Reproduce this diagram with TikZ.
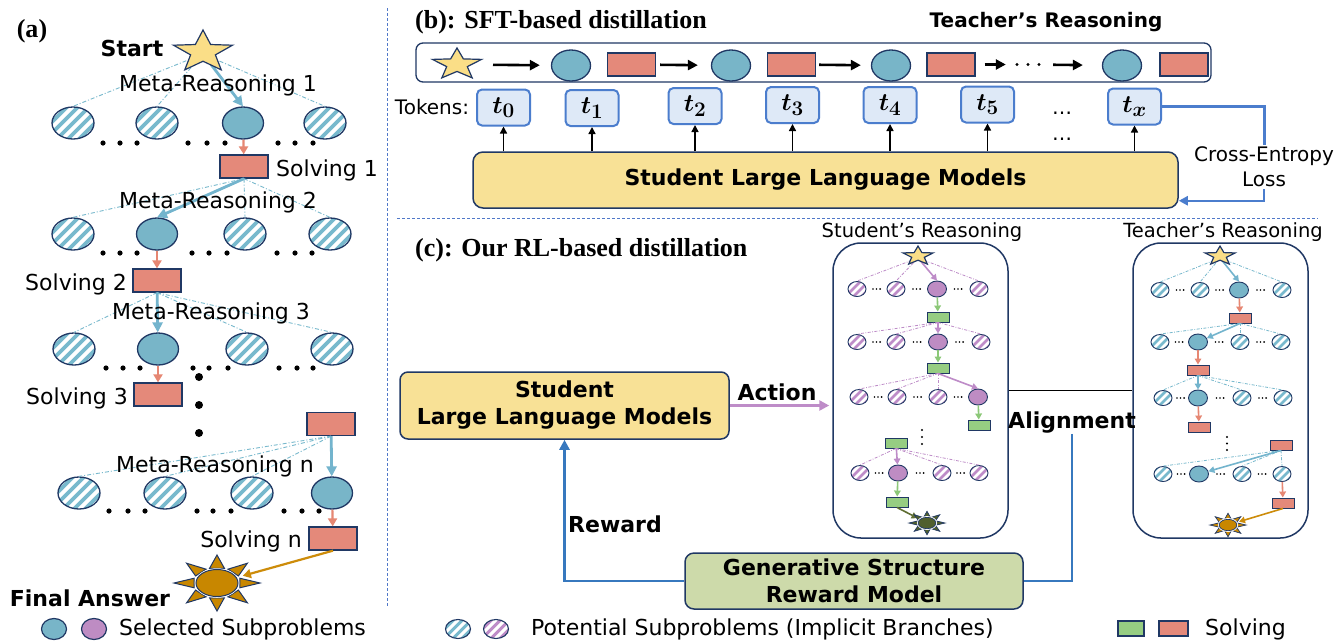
\documentclass[tikz,border=0pt]{standalone}
\usepackage{fontspec}
\setmainfont{Liberation Serif}
\newfontfamily\dv{DejaVu Sans}
\usetikzlibrary{arrows.meta,shapes.geometric,calc}

\definecolor{navy}{RGB}{32,56,100}
\definecolor{tealF}{RGB}{120,181,200}
\definecolor{stripeB}{RGB}{120,185,205}
\definecolor{salmon}{RGB}{228,137,122}
\definecolor{purpF}{RGB}{190,140,195}
\definecolor{greenF}{RGB}{150,205,130}
\definecolor{starY}{RGB}{250,222,135}
\definecolor{sunG}{RGB}{200,135,0}
\definecolor{sunD}{RGB}{80,95,45}
\definecolor{arrB}{RGB}{115,180,205}
\definecolor{arrO}{RGB}{230,135,115}
\definecolor{arrG}{RGB}{205,140,10}
\definecolor{arrP}{RGB}{190,140,200}
\definecolor{arrGr}{RGB}{140,200,120}
\definecolor{arrDG}{RGB}{95,110,50}
\definecolor{linkB}{RGB}{55,120,190}
\definecolor{tokB}{RGB}{75,125,205}
\definecolor{tokF}{RGB}{222,233,247}
\definecolor{boxY}{RGB}{248,225,150}
\definecolor{boxG}{RGB}{205,218,170}
\definecolor{sepB}{RGB}{80,120,200}

% five-pointed star, squashed vertically
\newcommand\starpic[4]{%
  \begin{scope}[shift={(#1,#2)},yscale=#4]
    \pgfmathsetmacro\rin{0.42*#3}
    \filldraw[fill=starY,draw=navy,line width=1.2pt,line join=miter]
      (-90:#3) -- (-54:\rin) -- (-18:#3) -- (18:\rin) -- (54:#3) -- (90:\rin)
      -- (126:#3) -- (162:\rin) -- (198:#3) -- (234:\rin) -- cycle;
  \end{scope}}

% sun: eight triangular rays round an ellipse
\newcommand\sunpic[5]{%
  \begin{scope}[shift={(#1,#2)},scale=#3]
    \foreach \a in {0,45,...,315}
      \filldraw[fill=#4,draw=navy,line width=#5,line join=miter]
        ({43*cos(\a)},{28*sin(\a)}) -- ({24*cos(\a-18)},{15.5*sin(\a-18)})
        -- ({24*cos(\a+18)},{15.5*sin(\a+18)}) -- cycle;
    \draw[white,line width=2.5pt] (0,0) ellipse [x radius=21,y radius=13.5];
    \filldraw[fill=#4,draw=navy,line width=#5] (0,0) ellipse [x radius=21,y radius=13.5];
  \end{scope}}

\tikzset{
  lab/.style={font=\dv\fontsize{22}{26}\selectfont, inner sep=0pt},
  lab20/.style={font=\dv\fontsize{20}{25}\selectfont, inner sep=0pt},
  blab/.style={font=\dv\bfseries\fontsize{22}{27}\selectfont, inner sep=0pt},
  blab20/.style={font=\dv\bfseries\fontsize{20}{24}\selectfont, inner sep=0pt},
  ttl/.style={font=\bfseries\fontsize{26}{30}\selectfont, inner sep=0pt},
  hatchE/.style n args={5}{ellipse, draw=navy, line width=#4, fill=white, inner sep=0pt,
    path picture={\foreach \k in {-6,...,6}
      \draw[draw=#1, line width=#3]
        ([xshift={(\k+#5)*#2}]path picture bounding box.center) ++(-40pt,-40pt) -- ++(80pt,80pt);}},
  selE/.style={ellipse, draw=navy, inner sep=0pt, fill=#1},
  bigHatch/.style={hatchE={stripeB}{11pt}{3.6pt}{1.3pt}{0}, minimum width=42pt, minimum height=32pt},
  bigSel/.style={selE=tealF, line width=1.3pt, minimum width=41pt, minimum height=32pt},
  bigRect/.style={draw=navy, line width=1.3pt, fill=salmon, inner sep=0pt, minimum width=48pt, minimum height=23pt},
  midSel/.style={selE=tealF, line width=1.3pt, minimum width=39pt, minimum height=31pt},
  midRect/.style={draw=navy, line width=1.3pt, fill=salmon, inner sep=0pt, minimum width=48pt, minimum height=23pt},
  smH/.style={hatchE={#1}{8pt}{2.6pt}{0.9pt}{0.5}, minimum width=18pt, minimum height=15pt},
  smS/.style={selE=#1, line width=0.9pt, minimum width=19pt, minimum height=16pt},
  smR/.style={draw=navy, line width=0.9pt, fill=#1, inner sep=0pt, minimum width=22pt, minimum height=10pt},
  tok/.style={draw=tokB, line width=2pt, fill=tokF, rounded corners=5pt, inner sep=0pt,
    minimum width=53pt, minimum height=36pt, font=\fontsize{28}{28}\selectfont\boldmath},
  ybox/.style={draw=navy, line width=1.5pt, fill=boxY, rounded corners=10pt, inner sep=0pt,
    font=\dv\bfseries\fontsize{22}{27}\selectfont, align=center},
  gbox/.style={ybox, fill=boxG, rounded corners=9pt},
  panelbox/.style={draw=navy, line width=1.5pt, fill=white, rounded corners=28pt, inner sep=0pt,
    minimum width=175pt, minimum height=295pt},
  ddl/.style={line width=0.9pt, dash pattern=on 4pt off 2pt on 1pt off 2pt},
  sdd/.style={line width=0.8pt, dash pattern=on 3pt off 1.5pt on 0.8pt off 1.5pt},
  tarr/.style={line width=2.8pt, -{Triangle[length=10pt,width=10pt]}},
  oarr/.style={line width=2.2pt, -{Triangle[length=8pt,width=9pt]}},
  sarr/.style={line width=1.6pt, -{Triangle[length=6pt,width=6.5pt]}},
  barr/.style={line width=2.6pt, -{Triangle[length=10pt,width=10pt]}},
  uarr/.style={line width=1.5pt, -{Triangle[length=7pt,width=7pt]}},
  link/.style={draw=linkB, line width=2.5pt},
  sepl/.style={draw=sepB, line width=0.9pt, dash pattern=on 3pt off 2pt},
}

\begin{document}
\begin{tikzpicture}[x=1pt,y=-1pt]
\useasboundingbox (0,0) rectangle (1335,641);
\fill[white] (0,0) rectangle (1335,641);

% ---------- panel separators
\draw[sepl] (387,8) -- (387,607);
\draw[sepl] (397,218) -- (1318,218);

% ================= (a) search tree =================
\node[ttl] (la) at (32,31) {(a)};
\coordinate (aStar) at (203,54);
\node[bigHatch] (a11) at (73,123) {};
\node[bigHatch] (a12) at (157,123) {};
\node[bigSel]   (a13) at (243,123) {};
\node[bigHatch] (a14) at (325,123) {};
\node[bigRect]  (ar1) at (244,166.5) {};
\node[bigHatch] (a21) at (73,234) {};
\node[bigSel]   (a22) at (157,234) {};
\node[bigHatch] (a23) at (245,234) {};
\node[bigHatch] (a24) at (330,234) {};
\node[bigRect]  (ar2) at (157,280.5) {};
\node[bigHatch] (a31) at (74,349) {};
\node[bigSel]   (a32) at (158,349) {};
\node[bigHatch] (a33) at (247,349) {};
\node[bigHatch] (a34) at (332,349) {};
\node[bigRect]  (ar3) at (158,394.5) {};
\node[bigRect]  (ar4) at (331,424) {};
\node[bigHatch] (a41) at (79,493) {};
\node[bigHatch] (a42) at (165,493) {};
\node[bigHatch] (a43) at (252,493) {};
\node[bigSel]   (a44) at (332,493) {};
\node[bigRect]  (ar5) at (333,538.5) {};
\node[ellipse, inner sep=0pt, minimum width=56pt, minimum height=36pt] (aSun) at (217,583) {};

% branches
\foreach \t in {a11,a12,a14} \draw[ddl,draw=stripeB] (aStar) -- (\t.north);
\draw[tarr,draw=arrB] (aStar) -- (a13.north);
\draw[oarr,draw=arrO] (a13) -- (ar1);
\foreach \t in {a21,a23,a24} \draw[ddl,draw=stripeB] (ar1.south) -- (\t.north);
\draw[tarr,draw=arrB] (ar1.south) -- (a22.north);
\draw[oarr,draw=arrO] (a22) -- (ar2);
\foreach \t in {a31,a33,a34} \draw[ddl,draw=stripeB] (ar2.south) -- (\t.north);
\draw[tarr,draw=arrB] (ar2) -- (a32);
\draw[oarr,draw=arrO] (a32) -- (ar3);
\foreach \t in {a41,a42,a43} \draw[ddl,draw=stripeB] (ar4.south) -- (\t.north);
\draw[tarr,draw=arrB] (ar4) -- (a44);
\draw[oarr,draw=arrO] (a44) -- (ar5);
\draw[oarr,draw=arrG] (ar5.south) -- (aSun);

\starpic{203}{52}{31}{0.71}
\sunpic{217}{583}{1}{sunG}{1pt}

% ellipsis dots below each row
\foreach \y/\xs in {143/{103,120,137,188,207,225,278,295,313},
                    253/{103,120,137,192,209,227,277,295,312},
                    368/{106,123,140,193,209,228,279,297,313},
                    511/{109,128,145,197,213,231,284,302,319}}
  \foreach \x in \xs \fill (\x,\y) circle (2.6);
\foreach \y in {377,405,433} \fill (199,\y) circle (4);

\node[blab] (lstart) at (132,48.5) {Start};
\node[lab] (lm1) at (218,85) {Meta-Reasoning 1};
\node[lab, anchor=west] (ls1) at (276,170.5) {Solving 1};
\node[lab] (lm2) at (218,202) {Meta-Reasoning 2};
\node[lab, anchor=east] (ls2) at (127,284) {Solving 2};
\node[lab] (lm3) at (211,313) {Meta-Reasoning 3};
\node[lab, anchor=east] (ls3) at (128,398) {Solving 3};
\node[lab] (lmn) at (215,466) {Meta-Reasoning n};
\node[lab, anchor=east] (lsn) at (302,541) {Solving n};
\node[blab] (lfin) at (90,598.5) {Final Answer};

% ================= (b) SFT distillation =================
\node[ttl, anchor=west] (lb) at (415,22) {(b): SFT-based distillation};
\node[blab20] (ltr) at (1046,22) {Teacher’s Reasoning};
\node[draw=navy, line width=1.3pt, fill=white, rounded corners=7pt, inner sep=0pt,
      minimum width=795pt, minimum height=39pt] (seq) at (813.5,62.5) {};
\coordinate (bStar) at (457,64.5);
\node[midSel]  (bc1) at (571,65.5) {};
\node[midRect] (br1) at (631.5,64.5) {};
\node[midSel]  (bc2) at (731,65.5) {};
\node[midRect] (br2) at (791.5,64.5) {};
\node[midSel]  (bc3) at (891,65.5) {};
\node[midRect] (br3) at (951,64.5) {};
\node[inner sep=0pt, minimum width=34pt, minimum height=6pt] (bdots) at (1028,64.5) {};
\node[midSel]  (bc4) at (1122,65.5) {};
\node[midRect] (br4) at (1184,64.5) {};
\starpic{457}{64.5}{25.8}{0.64}
\draw[barr, shorten <=36pt, shorten >=11pt] (bStar) -- (bc1);
\draw[barr, shorten <=4pt, shorten >=13pt] (br1) -- (bc2);
\draw[barr, shorten <=3pt, shorten >=10pt] (br2) -- (bc3);
\draw[barr, shorten <=9pt, shorten >=5pt] (br3) -- (bdots);
\draw[barr, shorten <=8pt, shorten >=19pt] (bdots) -- (bc4);
\foreach \dx in {-11,0,11} \fill ([xshift=\dx pt]bdots.center) circle (1.6);

\node[lab20] (ltok) at (432,107.5) {Tokens:};
\node[tok] (tk0) at (503.5,107.5) {$t_0$};
\node[tok] (tk1) at (592,108) {$t_1$};
\node[tok] (tk2) at (695,106) {$t_2$};
\node[tok] (tk3) at (792.5,105) {$t_3$};
\node[tok] (tk4) at (890,105) {$t_4$};
\node[tok] (tk5) at (987.5,104.5) {$t_5$};
\node[tok] (tkx) at (1134.5,106.5) {$t_x$};
\node[lab20] (bel1) at (1062,113) {…};
\node[lab20] (bel2) at (1062,139) {…};

\node[ybox, minimum width=705pt, minimum height=56pt] (llm) at (825.5,180) {Student Large Language Models};
\foreach \i in {0,1,2,3,4,5,x} \draw[uarr] (llm.north -| tk\i) -- (tk\i.south);

\node[lab20, align=center, inner sep=2pt] (ce) at (1264,167) {Cross-Entropy\\Loss};
\draw[draw=tokB, line width=3pt] (tkx.east) -| (ce.north);
\draw[draw=tokB, line width=2.5pt, -{Triangle[length=9pt,width=9pt]}]
  (ce.south) |- ($(llm.south east)+(0,-8)$);

% ================= (c) RL distillation =================
\node[ttl, anchor=west] (lc) at (415,250) {(c): Our RL-based distillation};
\node[ybox, rounded corners=8pt, minimum width=329pt, minimum height=67pt] (slm) at (564.5,405.5)
  {Student\\Large Language Models};
\node[panelbox] (sbox) at (920.5,390.5) {};
\node[panelbox] (tbox) at (1220.5,390.5) {};
\node[font=\dv\fontsize{19.5}{23}\selectfont, inner sep=0pt] (lsr) at (922,232) {Student’s Reasoning};
\node[font=\dv\fontsize{19.5}{23}\selectfont, inner sep=0pt] (ltr2) at (1223,232) {Teacher’s Reasoning};

\draw[line width=2.5pt, draw=arrP, -{Triangle[length=10pt,width=10pt]}, shorten >=3pt]
  (slm.east) -- (slm.east -| sbox.west);
\node[blab] (lact) at (777,392) {Action};
\draw[line width=1pt] (sbox.east) -- (tbox.west);
\node[blab] (lalign) at (1072,423) {Alignment};
\node[gbox, minimum width=338pt, minimum height=56pt] (gsrm) at (854,581) {Generative Structure\\Reward Model};
\draw[link] (lalign.south) |- (gsrm.east);
\draw[link, -{Triangle[length=10pt,width=10pt]}] (gsrm.west) -| (slm.south);
\node[blab, anchor=west] (lrew) at (568,524) {Reward};

% ---- student's tree
\coordinate (sStar) at (918,258);
\node[smH=arrP] (s11) at (857,289) {};
\node[smH=arrP] (s12) at (896,289) {};
\node[smS=purpF] (s13) at (937,289) {};
\node[smH=arrP] (s14) at (979,289) {};
\node[smR=greenF] (sr1) at (938,317) {};
\node[smH=arrP] (s21) at (857,342) {};
\node[smH=arrP] (s22) at (896,342) {};
\node[smS=purpF] (s23) at (938,342) {};
\node[smH=arrP] (s24) at (981,342) {};
\node[smR=greenF] (sr2) at (938,368) {};
\node[smH=arrP] (s31) at (859,397) {};
\node[smH=arrP] (s32) at (897,397) {};
\node[smH=arrP] (s33) at (938,397) {};
\node[smS=purpF] (s34) at (978,397) {};
\node[smR=greenF] (sr3) at (979,425) {};
\node[smR=greenF] (sr4) at (896,443) {};
\node[smH=arrP] (s41) at (860,473) {};
\node[smS=purpF] (s42) at (898,473) {};
\node[smH=arrP] (s43) at (942,473) {};
\node[smH=arrP] (s44) at (979,473) {};
\node[smR=greenF] (sr5) at (897,502) {};
\node[ellipse, inner sep=0pt, minimum width=24pt, minimum height=15pt] (sSun) at (927,523) {};

\foreach \t in {s11,s12,s14} \draw[sdd,draw=arrP] (sStar) -- (\t.north);
\draw[sarr,draw=arrP] (sStar) -- (s13.north);
\draw[sarr,draw=arrGr] (s13) -- (sr1);
\foreach \t in {s21,s22,s24} \draw[sdd,draw=arrP] (sr1.south) -- (\t.north);
\draw[sarr,draw=arrP] (sr1) -- (s23);
\draw[sarr,draw=arrGr] (s23) -- (sr2);
\foreach \t in {s31,s32,s33} \draw[sdd,draw=arrP] (sr2.south) -- (\t.north);
\draw[sarr,draw=arrP] (sr2.south) -- (s34.north);
\draw[sarr,draw=arrGr] (s34) -- (sr3);
\foreach \t in {s41,s43,s44} \draw[sdd,draw=arrP] (sr4.south) -- (\t.north);
\draw[sarr,draw=arrP] (sr4) -- (s42);
\draw[sarr,draw=arrGr] (s42) -- (sr5);
\draw[sarr,draw=arrDG] (sr5.south) -- (sSun);
\starpic{918}{256}{15.8}{0.63}
\sunpic{927}{523}{0.42}{sunD}{0.7pt}

% ---- teacher's tree
\coordinate (tStar) at (1220,258);
\node[smH=stripeB] (t11) at (1160,290) {};
\node[smH=stripeB] (t12) at (1200,290) {};
\node[smS=tealF] (t13) at (1239,290) {};
\node[smH=stripeB] (t14) at (1282,290) {};
\node[smR=salmon] (tr1) at (1240,318) {};
\node[smH=stripeB] (t21) at (1160,342) {};
\node[smS=tealF] (t22) at (1198,342) {};
\node[smH=stripeB] (t23) at (1240,342) {};
\node[smH=stripeB] (t24) at (1281,342) {};
\node[smR=salmon] (tr2) at (1198,370) {};
\node[smH=stripeB] (t31) at (1163,398) {};
\node[smS=tealF] (t32) at (1198,398) {};
\node[smH=stripeB] (t33) at (1242,398) {};
\node[smH=stripeB] (t34) at (1283,398) {};
\node[smR=salmon] (tr3) at (1199,427) {};
\node[smR=salmon] (tr4) at (1281,445) {};
\node[smH=stripeB] (t41) at (1163,474) {};
\node[smS=tealF] (t42) at (1199,474) {};
\node[smH=stripeB] (t43) at (1242,474) {};
\node[smH=stripeB] (t44) at (1282,474) {};
\node[smR=salmon] (tr5) at (1283,503) {};
\node[ellipse, inner sep=0pt, minimum width=24pt, minimum height=15pt] (tSun) at (1228,525) {};

\foreach \t in {t11,t12,t14} \draw[sdd,draw=stripeB] (tStar) -- (\t.north);
\draw[sarr,draw=arrB] (tStar) -- (t13.north);
\draw[sarr,draw=arrO] (t13) -- (tr1);
\foreach \t in {t21,t23,t24} \draw[sdd,draw=stripeB] (tr1.south) -- (\t.north);
\draw[sarr,draw=arrB] (tr1.south) -- (t22);
\draw[sarr,draw=arrO] (t22) -- (tr2);
\foreach \t in {t31,t33,t34} \draw[sdd,draw=stripeB] (tr2.south) -- (\t.north);
\draw[sarr,draw=arrB] (tr2) -- (t32);
\draw[sarr,draw=arrO] (t32) -- (tr3);
\foreach \t in {t41,t43,t44} \draw[sdd,draw=stripeB] (tr4.south) -- (\t.north);
\draw[sarr,draw=arrB] (tr4.south) -- (t42);
\draw[sarr,draw=arrO] (t44) -- (tr5);
\draw[sarr,draw=arrG] (tr5.south) -- (tSun);
\starpic{1220}{256}{15.8}{0.63}
\sunpic{1228}{525}{0.42}{sunG}{0.7pt}

% in-row ellipsis dots of both small trees
\foreach \p/\q in {s11/s12,s12/s13,s13/s14,s21/s22,s22/s23,s23/s24,s31/s32,s32/s33,s33/s34,
                   s41/s42,s42/s43,s43/s44,t11/t12,t12/t13,t13/t14,t21/t22,t22/t23,t23/t24,
                   t31/t32,t32/t33,t33/t34,t41/t42,t42/t43,t43/t44}
  \foreach \dx in {-3.6,0,3.6} \fill ($($(\p)!0.5!(\q)$)+(\dx,0)$) circle (0.9);
\foreach \y in {430,437,444} \fill (922,\y) circle (1.1);
\foreach \y in {437,443.5,450} \fill (1227,\y) circle (1.1);

% ================= legend =================
\node[selE=tealF, line width=1.2pt, minimum width=25pt, minimum height=21pt] (lg1) at (54,629) {};
\node[selE=purpF, line width=1.2pt, minimum width=25pt, minimum height=21pt] (lg2) at (94,629) {};
\node[lab, anchor=west] (lgt1) at (119,629) {Selected Subproblems};
\node[hatchE={stripeB}{9pt}{3pt}{1.1pt}{0.5}, minimum width=25pt, minimum height=19pt] (lg3) at (458,629) {};
\node[hatchE={arrP}{9pt}{3pt}{1.1pt}{0.5}, minimum width=25pt, minimum height=19pt] (lg4) at (496,629) {};
\node[lab, anchor=west] (lgt2) at (531,629) {Potential Subproblems (Implicit Branches)};
\node[draw=navy, line width=1.1pt, fill=greenF, inner sep=0pt, minimum width=26pt, minimum height=15pt] (lg5) at (1131,628.5) {};
\node[draw=navy, line width=1.1pt, fill=salmon, inner sep=0pt, minimum width=29pt, minimum height=15pt] (lg6) at (1173.5,628.5) {};
\node[lab, anchor=west] (lgt3) at (1205,629) {Solving};
\end{tikzpicture}
\end{document}
